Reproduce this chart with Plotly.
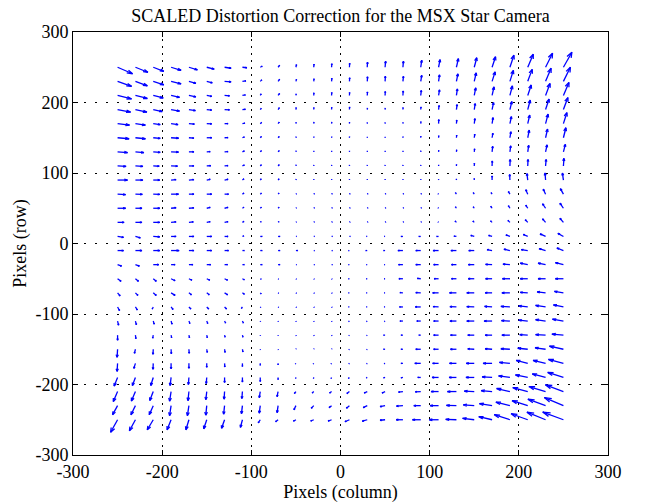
import plotly.graph_objects as go

# Grid of arrow tails (pixels, column / row)
X_COLS = [-250, -230, -210, -190, -170, -150, -130, -110, -90, -70, -50, -30, -10,
          10, 30, 50, 70, 90, 110, 130, 150, 170, 190, 210, 230, 250]
Y_ROWS = [250, 230, 210, 190, 170, 150, 130, 110, 90, 70, 50, 30, 10,
          -10, -30, -50, -70, -90, -110, -130, -150, -170, -190, -210, -230, -250]

# Scaled correction vectors, one list per row (top row first), one value per column
U = [
    [16.8, 14.0, 11.8, 11.2, 9.5, 8.4, 7.3, 5.0, 2.2, 1.7, 0.6, 0.3, 0.3, 0.3, 0.3, 0.6, 0.6, 1.1, 1.7, 2.2, 2.8, 3.9, 4.5, 6.2, 7.8, 9.5],
    [15.7, 13.4, 11.8, 11.2, 7.8, 6.2, 7.3, 3.9, 1.7, 1.7, 0.6, 0.3, 0.3, 0.3, 0.3, 0.3, 0.6, 1.1, 1.1, 1.7, 2.2, 3.4, 3.9, 5.0, 6.2, 7.8],
    [15.7, 13.4, 11.2, 9.5, 7.8, 5.6, 5.6, 3.4, 1.1, 1.7, 0.3, 0.2, 0.2, 0.2, 0.2, 0.2, 0.3, 0.6, 1.1, 1.1, 1.7, 2.2, 2.8, 3.9, 5.0, 6.2],
    [14.6, 12.9, 10.1, 9.5, 7.3, 5.6, 5.6, 3.4, 1.1, 1.5, 0.3, 0.2, 0.2, 0.2, 0.2, 0.2, 0.2, 0.3, 0.6, 0.8, 1.1, 1.7, 2.2, 2.8, 3.9, 5.0],
    [13.4, 11.2, 7.8, 7.8, 6.2, 5.6, 3.9, 2.8, 1.5, 1.3, 0.3, 0.2, 0.2, 0.1, 0.1, 0.1, 0.1, 0.2, 0.3, 0.4, 0.8, 1.1, 1.7, 2.2, 2.8, 3.9],
    [12.9, 11.2, 7.8, 8.4, 5.6, 5.6, 3.9, 2.2, 1.3, 1.3, 0.3, 0.2, 0.2, 0.1, 0.1, 0.1, 0.1, 0.1, 0.2, 0.3, 0.6, 0.9, 1.1, 1.7, 2.2, 2.8],
    [11.2, 9.5, 7.8, 8.4, 5.6, 3.9, 3.9, 2.2, 1.3, 1.3, 0.3, 0.1, 0.1, 0.1, 0.1, 0.1, 0.1, 0.1, 0.2, 0.3, 0.4, 0.7, 0.9, 1.1, 1.7, 2.2],
    [9.5, 8.4, 6.7, 7.3, 5.6, 4.5, 3.9, 2.2, 1.3, 1.3, 0.3, 0.1, 0.1, 0.1, 0.1, 0.1, 0.1, 0.1, 0.1, 0.1, 0.2, 0.2, 0.3, 0.3, 0.6, 0.6],
    [11.2, 8.4, 7.3, 5.6, 5.6, 3.9, 3.9, 1.7, 1.1, 1.1, 0.3, 0.1, 0.1, 0.1, 0.1, 0.1, 0.1, 0.1, 0.0, 0.0, 0.0, 0.0, -0.3, -0.9, -0.6, -1.1],
    [9.0, 7.8, 7.3, 8.4, 5.6, 5.6, 4.5, 1.7, 1.3, 1.1, 0.6, 0.8, 0.8, 0.8, 0.8, 0.8, 0.8, 0.8, -0.6, -1.1, -1.1, -1.1, -1.7, -2.2, -2.6, -3.4],
    [9.0, 7.3, 7.3, 5.6, 5.6, 3.9, 3.9, 1.7, 1.3, 1.1, 0.6, 0.8, 0.8, 0.8, 0.8, 0.8, 0.8, 0.8, -0.6, -1.1, -1.1, -1.5, -1.7, -2.2, -3.4, -3.9],
    [7.3, 7.3, 7.3, 5.6, 5.0, 3.9, 3.9, 1.7, 1.1, 1.1, 0.6, 0.8, 0.8, 0.8, 0.8, 0.8, 0.8, 0.8, -0.6, -1.5, -1.5, -1.7, -2.2, -2.8, -3.4, -3.9],
    [6.7, 5.6, 7.3, 5.6, 5.6, 5.6, 3.9, 1.7, 2.2, 2.2, 0.8, 1.0, 1.0, 1.0, -1.0, -1.0, -2.2, -2.2, -2.2, -2.8, -3.9, -3.9, -4.5, -5.0, -6.2, -6.2],
    [6.7, 7.3, 7.3, 9.0, 5.6, 5.6, 4.5, 2.2, 2.2, 2.2, 2.2, 1.0, 1.1, -1.1, -1.7, -1.7, -5.6, -5.6, -6.2, -6.2, -6.2, -5.6, -6.7, -7.3, -7.3, -7.3],
    [4.5, 4.5, 6.2, 4.5, 4.5, 4.5, 3.4, 2.2, 2.2, 2.2, 0.8, 1.0, 1.0, -1.0, -1.0, -1.0, -5.0, -5.6, -5.6, -5.6, -6.7, -7.3, -7.8, -8.4, -8.4, -9.0],
    [3.9, 3.4, 3.4, 4.5, 3.4, 3.4, 3.4, 2.2, 1.1, 0.6, 0.6, 0.6, 0.6, -1.0, -1.0, -1.0, -4.5, -3.9, -5.0, -5.6, -6.7, -7.3, -8.4, -8.4, -8.4, -9.0],
    [2.8, 2.8, 3.4, 4.5, 2.8, 2.8, 3.4, 2.2, 1.1, 0.6, 0.6, 0.6, 0.6, -1.0, -1.0, -1.0, -3.4, -5.6, -6.7, -7.8, -8.4, -7.8, -9.0, -8.4, -9.5, -10.1],
    [2.2, 2.2, -1.1, 2.2, 2.2, 2.2, 2.2, -1.1, 0.6, 0.6, 0.6, 0.6, 0.6, -1.0, -1.0, -1.1, -3.9, -6.2, -6.2, -7.3, -8.4, -8.4, -10.1, -10.1, -11.2, -11.2],
    [1.1, 1.1, 1.1, 1.1, 1.1, 1.1, 1.1, 1.1, 0.3, 0.3, 0.3, 0.3, 0.3, -0.8, -0.8, -0.8, -3.4, -4.5, -5.6, -7.3, -8.4, -9.0, -9.5, -10.1, -11.2, -12.3],
    [0.0, 0.6, -0.6, 0.6, 0.6, 0.6, 0.6, 0.6, 0.2, 0.2, 0.3, 0.3, 0.3, -0.6, -0.6, -1.7, -2.2, -2.2, -5.6, -6.7, -7.3, -7.8, -9.0, -9.0, -11.2, -12.9],
    [-0.6, -1.1, -0.3, 0.3, 0.3, 0.6, 0.6, 0.6, 0.2, 0.3, 0.3, 0.3, 0.3, -0.6, -0.6, -1.7, -2.2, -5.6, -5.6, -6.7, -7.3, -7.8, -10.1, -11.2, -11.8, -15.7],
    [-0.6, -1.7, -0.3, 0.0, 0.0, 0.0, 0.3, 0.0, 0.0, 0.0, -0.6, -0.6, -0.6, -0.6, -0.6, -1.1, -2.2, -6.7, -6.7, -7.8, -9.0, -10.1, -11.8, -12.9, -14.0, -16.8],
    [-3.9, -3.4, -2.8, -1.1, -0.6, -0.6, 0.0, 0.0, 0.0, 0.0, -0.3, -0.3, -0.6, -1.1, -1.1, -1.7, -2.2, -3.4, -7.3, -8.2, -9.3, -11.2, -12.7, -13.8, -14.9, -17.6],
    [-4.8, -4.5, -3.9, -1.7, -1.1, -1.1, -0.6, -0.6, -1.1, -1.1, -1.7, -1.7, -2.2, -2.8, -3.4, -3.4, -5.0, -6.2, -8.4, -10.1, -11.2, -12.3, -14.9, -16.8, -18.7, -20.2],
    [-5.6, -5.0, -4.5, -1.7, -1.7, -1.1, -1.1, -1.1, -1.1, -1.1, -2.2, -2.8, -2.8, -3.4, -4.5, -5.6, -7.3, -7.8, -9.5, -11.2, -12.3, -14.2, -15.7, -17.6, -19.8, -21.3],
    [-7.8, -6.7, -6.7, -4.5, -3.4, -3.4, -3.4, -2.2, -2.2, -2.8, -2.8, -3.4, -3.9, -5.0, -5.6, -5.6, -7.5, -9.3, -10.4, -12.0, -13.1, -14.9, -17.6, -18.7, -20.9, -23.2],
]
V = [
    [-9.2, -7.1, -5.7, -4.3, -3.6, -2.8, -1.4, -0.7, 1.4, 2.8, 3.6, 4.3, 5.0, 5.7, 7.1, 8.5, 8.5, 9.9, 10.7, 12.1, 13.5, 14.9, 17.0, 18.5, 19.9, 21.3],
    [-7.1, -6.4, -5.0, -3.6, -2.8, -2.1, -0.7, 0.7, 2.1, 2.8, 2.8, 3.6, 4.3, 5.0, 6.4, 7.1, 7.1, 8.5, 9.2, 10.7, 12.1, 13.5, 15.6, 17.0, 18.5, 19.9],
    [-5.0, -4.3, -3.6, -2.8, -2.1, -1.4, -0.7, 0.7, 2.1, 2.8, 2.1, 3.6, 4.3, 4.3, 5.0, 5.7, 6.4, 7.1, 7.8, 9.2, 10.7, 12.1, 13.5, 14.9, 17.0, 18.5],
    [-3.6, -3.6, -2.8, -2.1, -1.4, -0.7, -0.4, 0.4, 1.8, 2.6, 2.8, 2.8, 3.1, 3.6, 2.1, 2.1, 2.8, 3.6, 5.7, 7.1, 8.5, 9.9, 11.4, 13.5, 14.9, 17.0],
    [-2.1, -2.1, -1.4, -1.4, -0.7, -0.4, 0.0, 0.7, 1.7, 2.1, 1.7, 2.1, 2.1, 2.1, 1.4, 1.4, 1.7, 2.8, 5.7, 5.0, 7.1, 8.5, 9.9, 12.1, 13.5, 15.6],
    [-1.4, -1.4, -1.0, -0.7, -0.4, 0.0, 0.3, 1.1, 1.7, 1.8, 1.4, 1.4, 1.4, 1.4, 1.1, 1.1, 1.4, 2.1, 2.8, 3.6, 5.0, 6.4, 8.5, 10.7, 12.1, 14.2],
    [-1.0, -1.0, -0.7, -0.4, 0.0, 0.3, 0.4, 1.4, 1.7, 1.8, 1.4, 1.2, 1.2, 1.2, 1.2, 1.2, 1.2, 1.4, 2.1, 2.8, 4.3, 7.8, 8.5, 9.2, 9.9, 10.7],
    [-0.7, -0.7, -0.4, -0.3, 0.0, 0.3, 0.4, 1.4, 1.7, 1.8, 1.4, 1.2, 1.2, 1.2, 1.2, 1.2, 1.2, 1.2, 1.4, 2.1, 3.6, 7.1, 9.2, 9.2, 9.2, 10.7],
    [0.0, 0.0, 0.0, 0.7, 0.7, 1.1, 1.1, 1.7, 1.7, 1.8, 1.1, 1.1, 1.1, 1.1, 1.1, 1.1, 1.1, 1.1, 1.1, 1.4, 2.1, 5.7, 7.8, 9.2, 9.9, 9.9],
    [-0.7, -0.4, -0.4, 0.0, 0.0, 0.0, 0.0, 1.4, 1.4, 1.4, 0.6, 0.8, 0.8, 0.8, 0.8, 0.8, 0.8, 0.8, 0.7, 2.1, 2.1, 2.1, 3.6, 6.4, 7.1, 7.8],
    [0.0, 0.0, 0.0, 0.7, 0.4, 1.1, 1.1, 1.4, 1.4, 1.4, 0.6, 0.8, 0.8, 0.8, 0.8, 0.8, 0.8, 0.8, 0.7, 2.1, 2.1, 2.8, 3.6, 4.3, 6.4, 7.1],
    [0.0, 0.0, 0.0, 0.7, 0.7, 1.1, 1.1, 1.4, 1.1, 1.1, 0.6, 0.8, 0.8, 0.8, 0.8, 0.8, 0.8, 0.8, 0.6, 1.8, 1.8, 2.1, 2.8, 3.6, 5.0, 5.7],
    [-1.4, -2.1, -0.7, 0.0, 0.0, 0.0, 0.0, 0.7, 0.0, 0.0, 0.0, 0.0, 0.0, 0.0, 0.0, 0.0, 0.0, 0.0, 0.0, 0.4, 1.4, 1.4, 2.1, 2.8, 3.6, 4.3],
    [0.0, 0.0, 0.0, 0.0, 0.0, 0.0, 0.0, 0.0, 0.0, 0.0, 0.0, 0.0, 0.0, 0.0, 0.0, 0.0, 0.0, 0.0, 0.0, 0.0, 0.0, 1.4, 2.1, 1.4, 2.8, 3.6],
    [-2.1, -2.1, 0.0, 0.0, 0.0, 0.0, 0.0, 0.0, 0.0, 0.0, 0.0, 0.0, 0.0, 0.0, 0.0, 0.0, 0.0, 0.0, 0.0, 0.0, 0.0, 0.4, 0.7, 2.1, 2.1, 2.8],
    [-3.6, -3.6, -3.6, -2.8, -2.1, -2.1, -2.1, -1.4, -0.7, -0.6, -0.6, -0.6, -0.6, 0.0, 0.0, 0.0, 0.0, 0.4, 0.0, 0.0, 0.0, 0.0, 0.0, 0.0, 0.0, 0.0],
    [-4.3, -3.6, -3.6, -3.6, -2.8, -2.8, -2.8, -2.1, -1.4, -0.6, -0.6, -0.6, -0.6, 0.0, 0.0, 0.0, 0.4, 0.4, 0.0, 0.0, 0.0, 0.0, 0.0, 0.7, 1.4, 2.1],
    [-5.0, -4.3, -2.8, -3.6, -2.8, -2.8, -2.8, -2.1, -0.7, -0.6, -0.6, -0.6, -0.6, 0.0, 0.0, 0.0, 0.0, 0.0, 0.4, 0.4, 0.4, 0.7, 0.7, 1.4, 2.1, 2.8],
    [-5.7, -5.0, -4.3, -4.3, -3.6, -3.6, -2.8, -2.8, -0.8, -0.8, -0.8, -0.8, -0.8, -0.7, -0.7, -0.7, 0.0, 0.0, 0.0, 0.0, 0.0, 0.0, 0.7, 1.4, 2.1, 2.8],
    [-7.1, -5.0, -4.3, -3.6, -3.6, -3.6, -2.8, -2.8, -0.8, -0.8, -0.8, -0.8, -0.8, -0.7, -0.6, 0.0, 0.0, 0.0, 0.0, 0.0, 0.0, 0.0, 0.0, 0.7, 0.7, 1.4],
    [-11.4, -5.7, -7.1, -6.4, -5.7, -4.3, -4.3, -3.6, -0.8, -0.8, 0.8, 0.8, 0.8, -0.6, -0.6, 0.0, 0.0, 0.0, 0.0, 0.0, 0.4, 0.7, 0.7, 1.4, 2.1, 4.3],
    [-11.4, -7.1, -8.5, -7.8, -7.1, -5.7, -5.0, -4.3, -2.8, -2.1, -0.8, -0.8, -0.8, -0.7, -0.6, -0.4, 0.0, 0.0, 0.0, 0.0, 0.0, 0.0, 1.4, 4.3, 4.3, 5.7],
    [-12.1, -11.4, -11.4, -11.4, -9.9, -8.5, -7.1, -6.4, -5.7, -2.8, -1.4, -1.4, -1.4, -1.4, -0.7, -0.7, -0.7, 0.0, 0.0, 0.0, 0.0, 0.7, 2.1, 3.6, 5.0, 7.1],
    [-14.2, -13.5, -12.8, -13.5, -12.8, -11.4, -10.7, -9.9, -8.5, -7.1, -2.8, -2.1, -2.1, -2.8, -2.1, -2.1, -0.7, -0.4, 0.0, 0.0, 0.7, 1.4, 4.3, 5.7, 7.1, 9.5],
    [-12.8, -12.8, -12.8, -14.2, -14.2, -13.5, -12.1, -11.4, -10.7, -9.9, -5.7, -3.6, -2.8, -3.6, -2.8, -1.4, -0.7, 0.0, 0.0, 0.4, 1.1, 2.8, 5.0, 7.1, 9.2, 11.4],
    [-17.7, -15.6, -14.2, -14.2, -14.2, -12.8, -12.1, -10.7, -4.3, -2.8, -2.1, -1.8, -1.8, -2.8, -2.1, -0.7, 0.0, 0.0, 0.0, 0.4, 2.1, 4.3, 7.1, 8.5, 10.7, 10.9],
]

TICKS = [-300, -200, -100, 0, 100, 200, 300]
TICK_TEXT = ["-300", "-200", "-100", "0", "100", "200", "300"]
TITLE = "SCALED Distortion Correction for the MSX Star Camera"
XLABEL = "Pixels (column)"
YLABEL = "Pixels (row)"

# MATLAB-style quiver arrow geometry (head computed in data units)
ALPHA, BETA = 0.33, 0.33
xs, ys = [], []
for r, y0 in enumerate(Y_ROWS):
    for c, x0 in enumerate(X_COLS):
        u, v = U[r][c], V[r][c]
        xe, ye = x0 + u, y0 + v
        xs += [x0, xe, None]
        ys += [y0, ye, None]
        xs += [xe - ALPHA * (u + BETA * v), xe, xe - ALPHA * (u - BETA * v), None]
        ys += [ye - ALPHA * (v - BETA * u), ye, ye - ALPHA * (v + BETA * u), None]

FONT = "Liberation Serif, Times New Roman, serif"

fig = go.Figure(
    go.Scatter(x=xs, y=ys, mode="lines",
               line=dict(color="rgb(0,0,255)", width=1.3),
               hoverinfo="skip", showlegend=False)
)

axis_common = dict(
    range=[-300, 300], tickvals=TICKS, ticktext=TICK_TEXT,
    ticks="inside", ticklen=5, tickwidth=1,
    tickcolor="black", showline=True, linecolor="black", linewidth=1,
    mirror="ticks", zeroline=False, showgrid=True, gridcolor="black",
    gridwidth=1, tickfont=dict(family=FONT, size=18, color="black"),
)

fig.update_layout(
    width=646, height=504,
    paper_bgcolor="white", plot_bgcolor="white",
    margin=dict(l=73, r=38, t=32, b=49, autoexpand=False),
    title=dict(text=TITLE, x=0.5, xref="paper", xanchor="center",
               y=1 - 16 / 504, yref="container", yanchor="middle",
               font=dict(family=FONT, size=18, color="black")),
    xaxis=dict(axis_common, griddash="2px,5px",
               title=dict(text=XLABEL, standoff=2,
                          font=dict(family=FONT, size=18, color="black"))),
    yaxis=dict(axis_common, griddash="2px,9px",
               title=dict(text=YLABEL, standoff=4,
                          font=dict(family=FONT, size=18, color="black"))),
)

fig.write_html("out.html")
